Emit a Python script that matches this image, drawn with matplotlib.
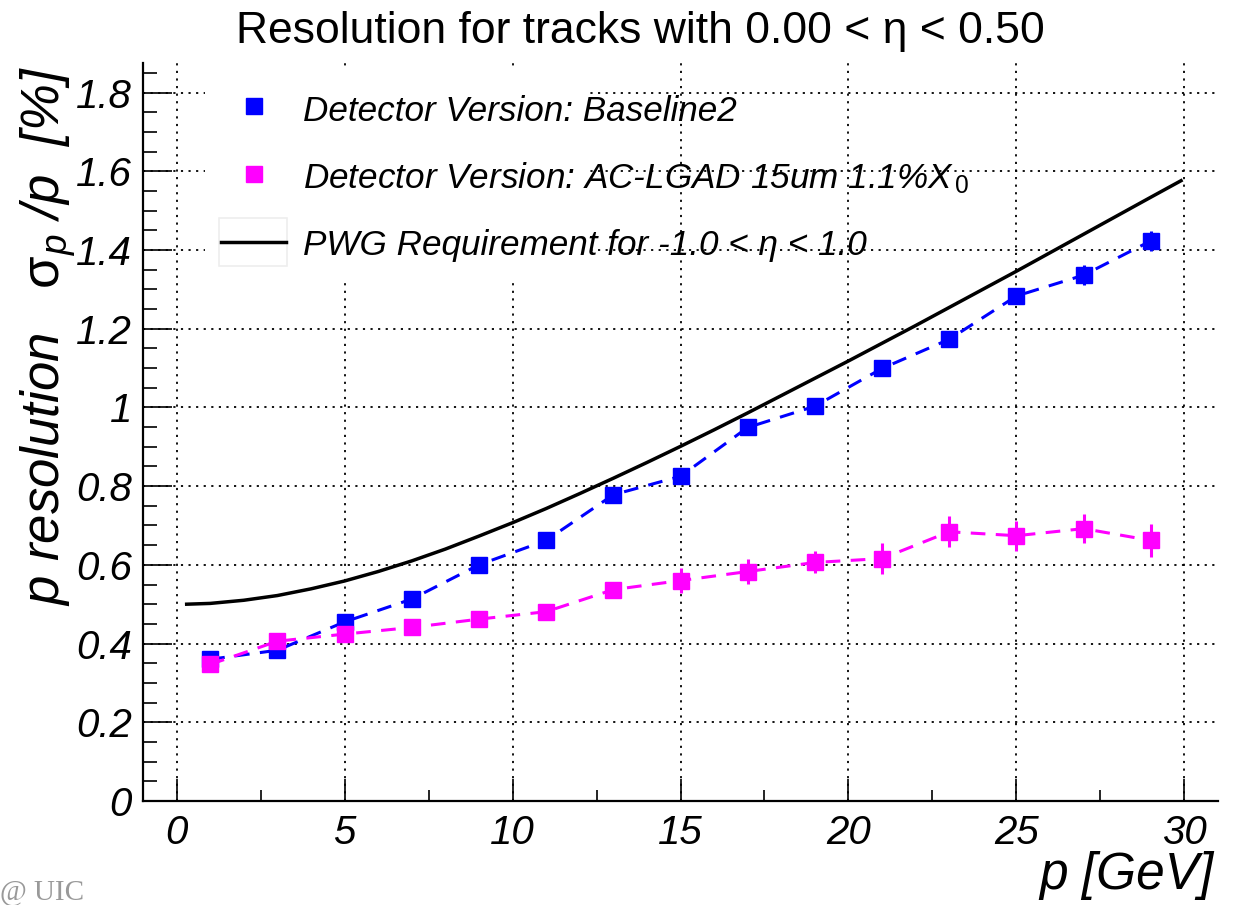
import matplotlib
matplotlib.use('Agg')
import matplotlib.pyplot as plt
from matplotlib.ticker import MultipleLocator, FuncFormatter
from matplotlib.patches import Rectangle
from matplotlib.lines import Line2D

# ---------------- data ----------------
momentum = [1, 3, 5, 7, 9, 11, 13, 15, 17, 19, 21, 23, 25, 27, 29]
baseline2 = [0.360, 0.383, 0.455, 0.513, 0.600, 0.662, 0.778, 0.825,
             0.949, 1.003, 1.099, 1.173, 1.283, 1.336, 1.423]
baseline2_err = [0.008, 0.008, 0.010, 0.010, 0.012, 0.012, 0.012, 0.013,
                 0.015, 0.015, 0.017, 0.020, 0.020, 0.026, 0.025]
aclgad = [0.347, 0.406, 0.424, 0.441, 0.462, 0.481, 0.537, 0.560,
          0.583, 0.606, 0.616, 0.684, 0.674, 0.692, 0.662]
aclgad_err = [0.010, 0.012, 0.012, 0.014, 0.015, 0.018, 0.020, 0.031,
              0.032, 0.028, 0.039, 0.039, 0.038, 0.036, 0.043]
# PWG requirement curve
req_p = [0.3, 1, 2, 3, 4, 5, 6, 7, 8, 9, 10, 11, 12, 13, 14, 15, 16, 17, 18,
         19, 20, 21, 22, 23, 24, 25, 26, 27, 28, 29, 29.9]
req_res = [0.500, 0.502, 0.510, 0.522, 0.539, 0.559, 0.583, 0.610, 0.640,
           0.673, 0.707, 0.743, 0.781, 0.820, 0.860, 0.901, 0.943, 0.986,
           1.030, 1.074, 1.118, 1.163, 1.208, 1.254, 1.300, 1.346, 1.393,
           1.440, 1.487, 1.534, 1.576]
x_ticks = [0, 5, 10, 15, 20, 25, 30]
y_ticks = [0, 0.2, 0.4, 0.6, 0.8, 1.0, 1.2, 1.4, 1.6, 1.8]
labels = ["Detector Version: Baseline2",
          "Detector Version: AC-LGAD 15um 1.1%$X_{\\,0}$",
          "PWG Requirement for -1.0 < \u03b7 < 1.0"]
title = "Resolution for tracks with 0.00 < \u03b7 < 0.50"

BLUE = '#0000ff'
MAG = '#ff00ff'
SANS = 'Liberation Sans'

plt.rcParams['font.family'] = [SANS, 'DejaVu Sans']
plt.rcParams['mathtext.fontset'] = 'custom'
plt.rcParams['mathtext.rm'] = SANS
plt.rcParams['mathtext.it'] = SANS + ':italic'
plt.rcParams['mathtext.sf'] = SANS

W, H = 1243, 905
fig = plt.figure(figsize=(W / 100, H / 100), dpi=100)
fig.patch.set_facecolor('white')


def fx(x):
    return x / W


def fy(y):
    return 1 - y / H


ax = fig.add_axes([fx(143), fy(801), (1218 - 143) / W, (801 - 63) / H])
ax.set_xlim(-1, 31)
ax.set_ylim(0, 1.875)

for s in ['top', 'right']:
    ax.spines[s].set_visible(False)
for s in ['left', 'bottom']:
    ax.spines[s].set_linewidth(1.6)

ax.xaxis.set_major_locator(matplotlib.ticker.FixedLocator(x_ticks))
ax.xaxis.set_minor_locator(MultipleLocator(2.5))
ax.yaxis.set_major_locator(matplotlib.ticker.FixedLocator(y_ticks))
ax.yaxis.set_minor_locator(MultipleLocator(0.05))
ax.xaxis.set_major_formatter(FuncFormatter(lambda v, _: f"{v:g}"))
ax.yaxis.set_major_formatter(FuncFormatter(lambda v, _: f"{v:g}"))

ax.tick_params(axis='y', which='major', direction='in', length=21, width=1.2,
               pad=8, labelsize=29)
ax.tick_params(axis='y', which='minor', direction='in', length=10, width=1.2)
ax.tick_params(axis='x', which='major', direction='in', length=16, width=1.2,
               pad=9, labelsize=29)
ax.tick_params(axis='x', which='minor', direction='in', length=8, width=1.2)
for lab in ax.get_xticklabels() + ax.get_yticklabels():
    lab.set_fontstyle('italic')

ax.grid(True, which='major', color='black', linestyle=(0, (1.2, 3.0)),
        linewidth=1.3)
ax.set_axisbelow(True)

# curve
ax.plot(req_p, req_res, color='black', linewidth=2.5, zorder=3)
# data
ax.errorbar(momentum, baseline2, yerr=baseline2_err, fmt='s', color=BLUE,
            markersize=12, elinewidth=2.2, capsize=0, zorder=4)
ax.plot(momentum, baseline2, color=BLUE, linewidth=2.2,
        linestyle=(0, (4.8, 3.4)), zorder=4)
ax.errorbar(momentum, aclgad, yerr=aclgad_err, fmt='s', color=MAG,
            markersize=12, elinewidth=2.2, capsize=0, zorder=5)
ax.plot(momentum, aclgad, color=MAG, linewidth=2.2,
        linestyle=(0, (4.8, 3.4)), zorder=5)

# legend background box (white, no border)
fig.add_artist(Rectangle((fx(205), fy(278)), (587 - 205) / W, (278 - 70) / H,
                         transform=fig.transFigure, facecolor='white',
                         edgecolor='none', zorder=2))
fig.add_artist(Line2D([fx(254)], [fy(106)], transform=fig.transFigure,
                      marker='s', markersize=12, color=BLUE, linestyle='none',
                      zorder=3))
fig.add_artist(Line2D([fx(254)], [fy(174.5)], transform=fig.transFigure,
                      marker='s', markersize=12, color=MAG, linestyle='none',
                      zorder=3))
fig.add_artist(Rectangle((fx(219), fy(266)), (287 - 219) / W, (266 - 218) / H,
                         transform=fig.transFigure, facecolor='white',
                         edgecolor='#eeeeee', linewidth=1.2, zorder=3))
fig.add_artist(Line2D([fx(221), fx(286)], [fy(242), fy(242)],
                      transform=fig.transFigure, color='black',
                      linewidth=2.5, zorder=4))
for lab, yb in zip(labels, [121, 188, 255]):
    fig.text(fx(303), fy(yb), lab, fontsize=25.3, style='italic',
             ha='left', va='baseline', zorder=5)

fig.text(fx(640), fy(43), title, fontsize=32, ha='center', va='baseline')

fig.text(fx(48), fy(336), r"p resolution   $\mathrm{\sigma}_{p}$ /p  [%]",
         fontsize=38, style='italic', rotation=90, ha='center', va='center')
fig.text(fx(1214), fy(889), "p [GeV]", fontsize=37, style='italic',
         ha='right', va='baseline')
fig.text(fx(0), fy(900), "@ UIC", fontsize=21, color='#999999',
         family='Liberation Serif', ha='left', va='baseline')

fig.savefig('out.png', dpi=100)
